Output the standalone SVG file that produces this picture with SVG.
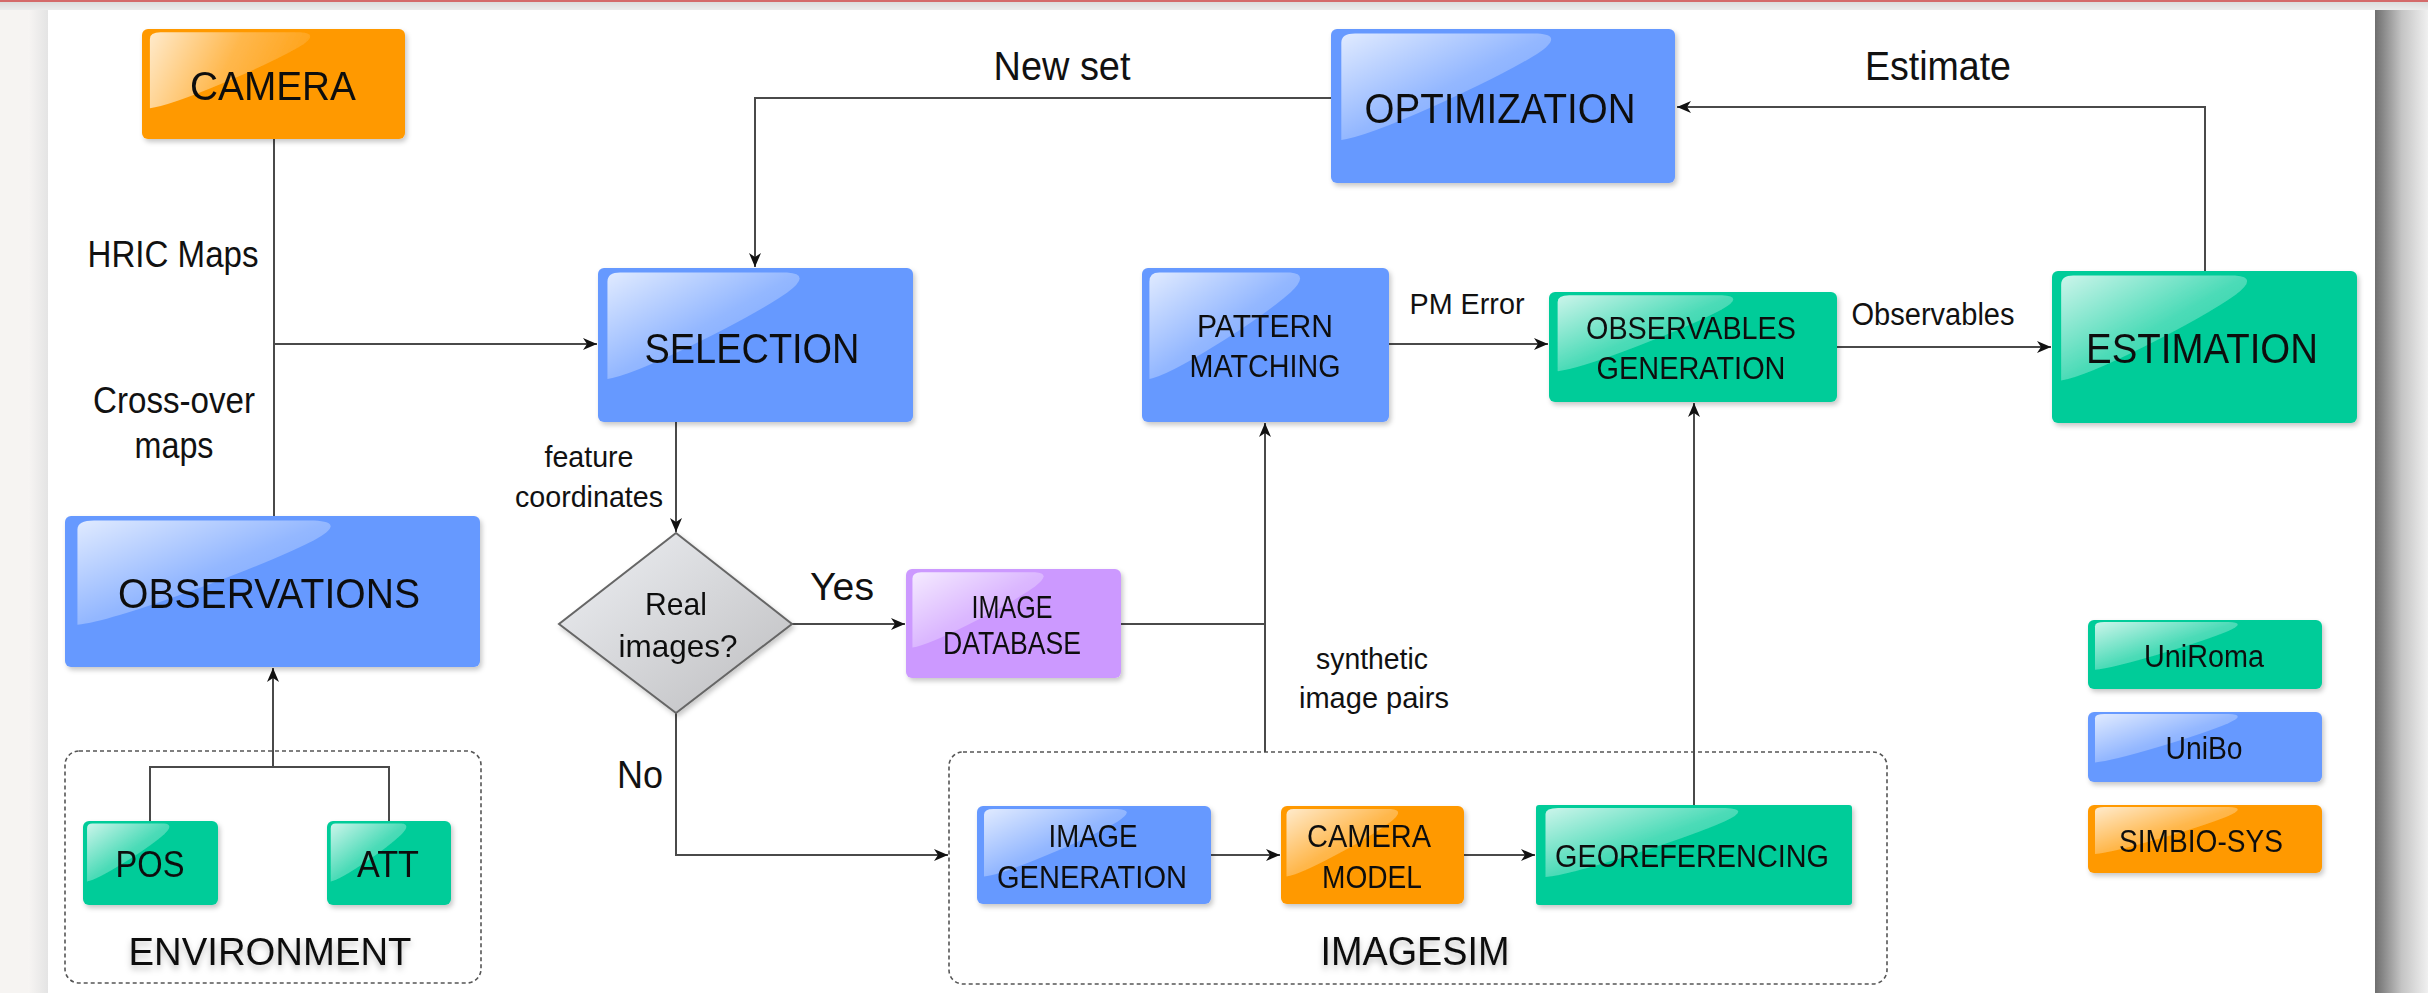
<svg xmlns="http://www.w3.org/2000/svg" xmlns:xlink="http://www.w3.org/1999/xlink" width="2428" height="993" viewBox="0 0 2428 993">
<style>
text{font-family:"Liberation Sans",Arial,sans-serif;fill:#111;text-anchor:middle}
.blue{fill:#6699ff}
.green{fill:#00cc99}
.orange{fill:#ff9900}
.purple{fill:#cc99ff}
.gl{fill:url(#gloss)}
.conn{fill:none;stroke:#4a4a4a;stroke-width:2}
.arr{marker-end:url(#ah)}
.grp{fill:none;stroke:#555;stroke-width:1.6;stroke-dasharray:4 3}
.node{filter:url(#sh)}
</style>
<defs>
<linearGradient id="gloss" x1="0" y1="0" x2="1" y2="1">
<stop offset="0" stop-color="#fff" stop-opacity="0.8"/>
<stop offset="0.5" stop-color="#fff" stop-opacity="0.3"/>
<stop offset="1" stop-color="#fff" stop-opacity="0.05"/>
</linearGradient>
<linearGradient id="gloss2" gradientUnits="userSpaceOnUse" x1="150" y1="32" x2="300" y2="108">
<stop offset="0" stop-color="#fff" stop-opacity="0.8"/>
<stop offset="0.5" stop-color="#fff" stop-opacity="0.3"/>
<stop offset="1" stop-color="#fff" stop-opacity="0.05"/>
</linearGradient>
<linearGradient id="dia" x1="0" y1="0" x2="1" y2="1">
<stop offset="0" stop-color="#eef0f4"/>
<stop offset="1" stop-color="#bdbdbf"/>
</linearGradient>
<linearGradient id="rstrip" x1="0" y1="0" x2="1" y2="0">
<stop offset="0" stop-color="#6e6e6e"/>
<stop offset="0.5" stop-color="#c4c4c4"/>
<stop offset="1" stop-color="#f0f0f0"/>
</linearGradient>
<linearGradient id="lshade" x1="0" y1="0" x2="1" y2="0">
<stop offset="0" stop-color="#f7f5f3"/>
<stop offset="1" stop-color="#e4e4e4"/>
</linearGradient>
<linearGradient id="topband" x1="0" y1="0" x2="0" y2="1">
<stop offset="0" stop-color="#d8d8d8"/>
<stop offset="1" stop-color="#ececec"/>
</linearGradient>
<filter id="sh" x="-10%" y="-10%" width="125%" height="130%">
<feDropShadow dx="2" dy="3" stdDeviation="2.5" flood-color="#000" flood-opacity="0.22"/>
</filter>
<filter id="tsh" x="-10%" y="-20%" width="120%" height="160%">
<feDropShadow dx="0" dy="4" stdDeviation="3" flood-color="#000" flood-opacity="0.25"/>
</filter>
<marker id="ah" markerUnits="userSpaceOnUse" markerWidth="16" markerHeight="14" refX="14" refY="6" orient="auto">
<path d="M0,0 L14,6 L0,12 L4,6 Z" fill="#111"/>
</marker>
<path id="glp" d="M0.03,0.09 Q0.03,0.03 0.07,0.03 L0.6,0.03 Q0.68,0.04 0.6,0.16 Q0.5,0.3 0.3,0.5 Q0.1,0.7 0.03,0.72 Z"/>
</defs>

<!-- background -->
<rect x="0" y="0" width="2428" height="993" fill="#f6f4f2"/>
<rect x="0" y="0" width="2428" height="10" fill="url(#topband)"/>
<rect x="0" y="0" width="2428" height="2" fill="#d46a6a"/>
<rect x="28" y="10" width="20" height="983" fill="url(#lshade)"/>
<rect x="48" y="10" width="2327" height="983" fill="#fff"/>
<rect x="2375" y="10" width="53" height="983" fill="url(#rstrip)"/>

<!-- groups (containers) -->
<g id="environment">
<rect class="grp" x="65" y="751" width="416" height="232" rx="14"/>
<text x="270" y="965" font-size="38" textLength="283" lengthAdjust="spacingAndGlyphs" filter="url(#tsh)">ENVIRONMENT</text>
</g>
<g id="imagesim">
<rect class="grp" x="949" y="752" width="938" height="232" rx="14"/>
<text x="1415" y="965" font-size="40" textLength="189" lengthAdjust="spacingAndGlyphs" filter="url(#tsh)">IMAGESIM</text>
</g>

<!-- connectors -->
<g id="connectors">
<path class="conn" d="M274,139 V516"/>
<path class="conn arr" d="M274,344 H597"/>
<path class="conn arr" d="M1331,98 H755 V267"/>
<path class="conn arr" d="M2205,271 V107 H1677"/>
<path class="conn arr" d="M676,422 V532"/>
<path class="conn arr" d="M792,624 H905"/>
<path class="conn" d="M1121,624 H1265"/>
<path class="conn arr" d="M1265,752 V423"/>
<path class="conn arr" d="M1389,344 H1548"/>
<path class="conn arr" d="M1837,347 H2051"/>
<path class="conn arr" d="M1694,805 V403"/>
<path class="conn arr" d="M676,713 V855 H948"/>
<path class="conn arr" d="M1211,855 H1280"/>
<path class="conn arr" d="M1464,855 H1535"/>
<path class="conn" d="M150,821 V767 H389 V821"/>
<path class="conn arr" d="M273,767 V668"/>
</g>

<!-- connector labels -->
<g id="labels">
<text x="173" y="267" font-size="37" textLength="171" lengthAdjust="spacingAndGlyphs">HRIC Maps</text>
<text x="174" y="413" font-size="37" textLength="162" lengthAdjust="spacingAndGlyphs">Cross-over</text>
<text x="174" y="458" font-size="37" textLength="79" lengthAdjust="spacingAndGlyphs">maps</text>
<text x="589" y="467" font-size="30" textLength="89" lengthAdjust="spacingAndGlyphs">feature</text>
<text x="589" y="507" font-size="30" textLength="148" lengthAdjust="spacingAndGlyphs">coordinates</text>
<text x="842" y="600" font-size="39" textLength="64" lengthAdjust="spacingAndGlyphs">Yes</text>
<text x="640" y="788" font-size="39" textLength="46" lengthAdjust="spacingAndGlyphs">No</text>
<text x="1062" y="80" font-size="40" textLength="137" lengthAdjust="spacingAndGlyphs">New set</text>
<text x="1938" y="80" font-size="40" textLength="146" lengthAdjust="spacingAndGlyphs">Estimate</text>
<text x="1467" y="314" font-size="30" textLength="115" lengthAdjust="spacingAndGlyphs">PM Error</text>
<text x="1933" y="325" font-size="31" textLength="163" lengthAdjust="spacingAndGlyphs">Observables</text>
<text x="1372" y="669" font-size="30" textLength="112" lengthAdjust="spacingAndGlyphs">synthetic</text>
<text x="1374" y="708" font-size="30" textLength="150" lengthAdjust="spacingAndGlyphs">image pairs</text>
</g>

<!-- nodes -->
<g id="camera" class="node">
<rect x="142" y="29" width="263" height="110" rx="6" fill="#ff9900"/>
<path fill="url(#gloss2)" d="M149.9,38.9 Q149.9,32.3 160.4,32.3 L299.8,32.3 Q320.8,33.4 299.8,46.6 Q273.5,62 220.9,84 Q168.3,106 149.9,108.2 Z"/>
<text x="273" y="100" font-size="40" textLength="166" lengthAdjust="spacingAndGlyphs">CAMERA</text>
</g>
<g id="selection" class="node">
<rect class="blue" x="598" y="268" width="315" height="154" rx="6"/>
<use href="#glp" class="gl" transform="translate(598,268) scale(315,154)"/>
<text x="752" y="363" font-size="42" textLength="215" lengthAdjust="spacingAndGlyphs">SELECTION</text>
</g>
<g id="optimization" class="node">
<rect class="blue" x="1331" y="29" width="344" height="154" rx="6"/>
<use href="#glp" class="gl" transform="translate(1331,29) scale(344,154)"/>
<text x="1500" y="123" font-size="42" textLength="271" lengthAdjust="spacingAndGlyphs">OPTIMIZATION</text>
</g>
<g id="pattern-matching" class="node">
<rect class="blue" x="1142" y="268" width="247" height="154" rx="6"/>
<use href="#glp" class="gl" transform="translate(1142,268) scale(247,154)"/>
<text x="1265" y="337" font-size="31" textLength="136" lengthAdjust="spacingAndGlyphs">PATTERN</text>
<text x="1265" y="377" font-size="31" textLength="151" lengthAdjust="spacingAndGlyphs">MATCHING</text>
</g>
<g id="observables-generation" class="node">
<rect class="green" x="1549" y="292" width="288" height="110" rx="6"/>
<use href="#glp" class="gl" transform="translate(1549,292) scale(288,110)"/>
<text x="1691" y="339" font-size="31" textLength="210" lengthAdjust="spacingAndGlyphs">OBSERVABLES</text>
<text x="1691" y="379" font-size="31" textLength="189" lengthAdjust="spacingAndGlyphs">GENERATION</text>
</g>
<g id="estimation" class="node">
<rect class="green" x="2052" y="271" width="305" height="152" rx="6"/>
<use href="#glp" class="gl" transform="translate(2052,271) scale(305,152)"/>
<text x="2202" y="363" font-size="42" textLength="232" lengthAdjust="spacingAndGlyphs">ESTIMATION</text>
</g>
<g id="observations" class="node">
<rect class="blue" x="65" y="516" width="415" height="151" rx="6"/>
<use href="#glp" class="gl" transform="translate(65,516) scale(415,151)"/>
<text x="269" y="608" font-size="42" textLength="302" lengthAdjust="spacingAndGlyphs">OBSERVATIONS</text>
</g>
<g id="real-images" class="node">
<polygon points="676,533 792,624 676,713 559,624" fill="url(#dia)" stroke="#666" stroke-width="2"/>
<text x="676" y="615" font-size="32" textLength="62" lengthAdjust="spacingAndGlyphs">Real</text>
<text x="678" y="657" font-size="32" textLength="119" lengthAdjust="spacingAndGlyphs">images?</text>
</g>
<g id="image-database" class="node">
<rect class="purple" x="906" y="569" width="215" height="109" rx="6"/>
<use href="#glp" class="gl" transform="translate(906,569) scale(215,109)"/>
<text x="1012" y="618" font-size="31" textLength="81" lengthAdjust="spacingAndGlyphs">IMAGE</text>
<text x="1012" y="654" font-size="31" textLength="138" lengthAdjust="spacingAndGlyphs">DATABASE</text>
</g>
<g id="pos" class="node">
<rect class="green" x="83" y="821" width="135" height="84" rx="6"/>
<use href="#glp" class="gl" transform="translate(83,821) scale(135,84)"/>
<text x="150" y="877" font-size="37" textLength="69" lengthAdjust="spacingAndGlyphs">POS</text>
</g>
<g id="att" class="node">
<rect class="green" x="327" y="821" width="124" height="84" rx="6"/>
<use href="#glp" class="gl" transform="translate(327,821) scale(124,84)"/>
<text x="388" y="877" font-size="37" textLength="62" lengthAdjust="spacingAndGlyphs">ATT</text>
</g>
<g id="image-generation" class="node">
<rect class="blue" x="977" y="806" width="234" height="98" rx="6"/>
<use href="#glp" class="gl" transform="translate(977,806) scale(234,98)"/>
<text x="1093" y="847" font-size="32" textLength="89" lengthAdjust="spacingAndGlyphs">IMAGE</text>
<text x="1092" y="888" font-size="32" textLength="190" lengthAdjust="spacingAndGlyphs">GENERATION</text>
</g>
<g id="camera-model" class="node">
<rect class="orange" x="1281" y="806" width="183" height="98" rx="6"/>
<use href="#glp" class="gl" transform="translate(1281,806) scale(183,98)"/>
<text x="1369" y="847" font-size="32" textLength="124" lengthAdjust="spacingAndGlyphs">CAMERA</text>
<text x="1372" y="888" font-size="32" textLength="100" lengthAdjust="spacingAndGlyphs">MODEL</text>
</g>
<g id="georeferencing" class="node">
<rect class="green" x="1536" y="805" width="316" height="100" rx="3"/>
<use href="#glp" class="gl" transform="translate(1536,805) scale(316,100)"/>
<text x="1692" y="867" font-size="32" textLength="274" lengthAdjust="spacingAndGlyphs">GEOREFERENCING</text>
</g>

<!-- legend -->
<g id="legend-uniroma" class="node">
<rect class="green" x="2088" y="620" width="234" height="69" rx="6"/>
<use href="#glp" class="gl" transform="translate(2088,620) scale(234,69)"/>
<text x="2204" y="667" font-size="31" textLength="120" lengthAdjust="spacingAndGlyphs">UniRoma</text>
</g>
<g id="legend-unibo" class="node">
<rect class="blue" x="2088" y="712" width="234" height="70" rx="6"/>
<use href="#glp" class="gl" transform="translate(2088,712) scale(234,70)"/>
<text x="2204" y="759" font-size="31" textLength="77" lengthAdjust="spacingAndGlyphs">UniBo</text>
</g>
<g id="legend-simbio-sys" class="node">
<rect class="orange" x="2088" y="805" width="234" height="68" rx="6"/>
<use href="#glp" class="gl" transform="translate(2088,805) scale(234,68)"/>
<text x="2201" y="852" font-size="31" textLength="164" lengthAdjust="spacingAndGlyphs">SIMBIO-SYS</text>
</g>
</svg>
